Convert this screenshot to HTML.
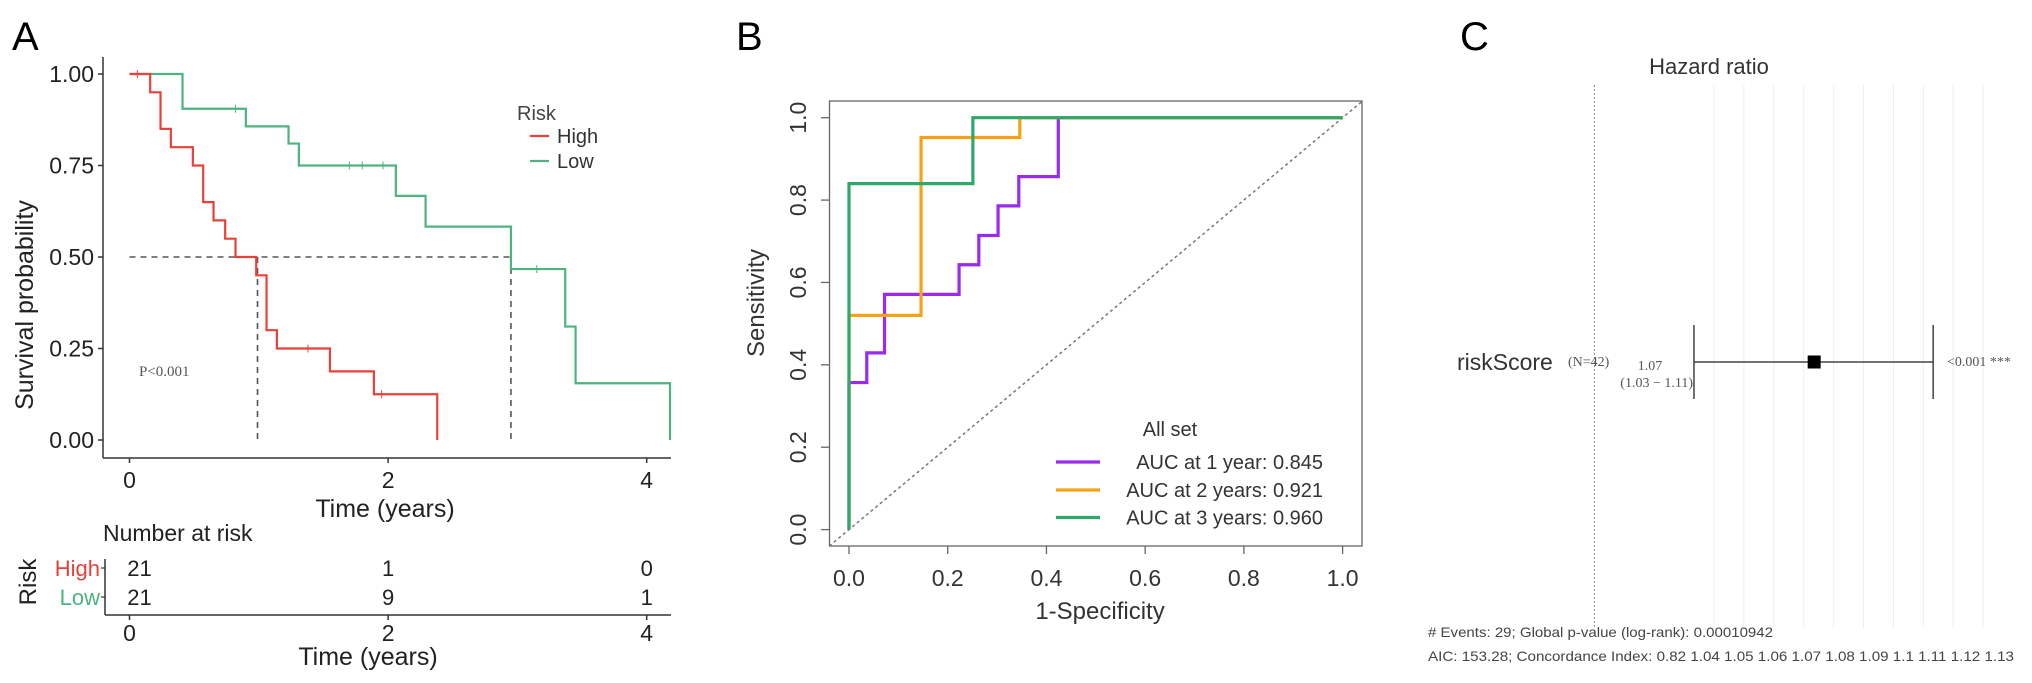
<!DOCTYPE html>
<html><head><meta charset="utf-8">
<style>
html,body{margin:0;padding:0;background:#fff;}
svg{display:block;font-family:"Liberation Sans",sans-serif;}
</style></head>
<body>
<svg id="fig" width="2032" height="683" viewBox="0 0 2032 683" xmlns="http://www.w3.org/2000/svg">
  <text x="12" y="50" font-size="40" fill="#000">A</text>
  <text x="736" y="50" font-size="40" fill="#000">B</text>
  <text x="1460" y="50" font-size="40" fill="#000">C</text>
  <g id="pa"></g>
  <g id="pb"></g>
  <g id="pc"></g>
</svg>
<script>
// ---------- Panel A data ----------
const kmTimeTicks = [0, 2, 4];
const kmProbTicks = [0, 0.25, 0.5, 0.75, 1.0];
const kmProbLabels = ["0.00", "0.25", "0.50", "0.75", "1.00"];
const highTimes = [0, 0.16, 0.24, 0.32, 0.49, 0.57, 0.65, 0.74, 0.82, 0.98, 1.06, 1.14, 1.55, 1.89, 2.38];
const highSurv  = [1, 0.95, 0.85, 0.80, 0.75, 0.65, 0.60, 0.55, 0.50, 0.45, 0.30, 0.25, 0.1875, 0.125, 0];
const highCensor = [0.06, 1.38, 1.95];
const lowTimes = [0, 0.41, 0.90, 1.23, 1.31, 2.06, 2.29, 2.95, 3.37, 3.45, 4.18];
const lowSurv  = [1, 0.905, 0.857, 0.81, 0.75, 0.667, 0.583, 0.467, 0.31, 0.155, 0];
const lowCensor = [0.82, 1.7, 1.8, 1.96, 3.15];
const medianHigh = 0.99;
const medianLow = 2.95;
const riskGroups = ["High", "Low"];
const riskHigh = [21, 1, 0];
const riskLow = [21, 9, 1];

// ---------- Panel B data ----------
const rocTicks = [0, 0.2, 0.4, 0.6, 0.8, 1.0];
const rocTickLabels = ["0.0", "0.2", "0.4", "0.6", "0.8", "1.0"];
const roc1Fpr = [0, 0, 0.036, 0.036, 0.072, 0.072, 0.223, 0.223, 0.263, 0.263, 0.302, 0.302, 0.344, 0.344, 0.424, 0.424, 1];
const roc1Tpr = [0, 0.357, 0.357, 0.429, 0.429, 0.571, 0.571, 0.643, 0.643, 0.714, 0.714, 0.786, 0.786, 0.857, 0.857, 1, 1];
const roc2Fpr = [0, 0, 0.146, 0.146, 0.346, 0.346, 1];
const roc2Tpr = [0, 0.52, 0.52, 0.952, 0.952, 1, 1];
const roc3Fpr = [0, 0, 0.251, 0.251, 1];
const roc3Tpr = [0, 0.84, 0.84, 1, 1];
const rocLabels = ["AUC at 1 year: 0.845", "AUC at 2 years: 0.921", "AUC at 3 years: 0.960"];

// ---------- Panel C data ----------
const hrGrid = [1.04, 1.05, 1.06, 1.07, 1.08, 1.09, 1.10, 1.11, 1.12, 1.13];
const hrRef = 1.0;
const hrPoint = [1.0735];
const hrLow = [1.0333];
const hrHigh = [1.1133];

const NS = "http://www.w3.org/2000/svg";
function mk(parent, tag, attrs, text) {
  const e = document.createElementNS(NS, tag);
  for (const k in attrs) e.setAttribute(k, attrs[k]);
  if (text !== undefined) e.textContent = text;
  parent.appendChild(e);
  return e;
}
function stepPath(xs, ys, sx, sy) {
  let d = "M" + sx(xs[0]) + "," + sy(ys[0]);
  for (let i = 1; i < xs.length; i++) {
    d += " H" + sx(xs[i]) + " V" + sy(ys[i]);
  }
  return d;
}
function linePath(xs, ys, sx, sy) {
  return xs.map((x, i) => (i ? "L" : "M") + sx(x) + "," + sy(ys[i])).join(" ");
}

// ================= Panel A =================
(function () {
  const g = document.getElementById("pa");
  const tx = t => 129.5 + t * 129.3;
  const ty = p => 440 - p * 366;
  const red = "#e8413a", green = "#4db380";
  let e;
  e = mk(g, "line", {x1: 103, y1: 57, x2: 103, y2: 458, stroke: "#333", "stroke-width": 1.5});
   
  e = mk(g, "line", {x1: 103, y1: 458, x2: 671, y2: 458, stroke: "#333", "stroke-width": 1.5});
   
  kmProbTicks.forEach((p, i) => {
    mk(g, "line", {x1: 98, y1: ty(p), x2: 103, y2: ty(p), stroke: "#333", "stroke-width": 1.5});
    e = mk(g, "text", {x: 94, y: ty(p) + 8, "font-size": 23, "text-anchor": "end", fill: "#222"}, kmProbLabels[i]);
     
  });
  kmTimeTicks.forEach(t => {
    mk(g, "line", {x1: tx(t), y1: 458, x2: tx(t), y2: 463, stroke: "#333", "stroke-width": 1.5});
    e = mk(g, "text", {x: tx(t), y: 488, "font-size": 23, "text-anchor": "middle", fill: "#222"}, String(t));
     
  });
  e = mk(g, "text", {x: 385, y: 517, "font-size": 25, "text-anchor": "middle", fill: "#222"}, "Time (years)");
   
  e = mk(g, "text", {x: 0, y: 0, "font-size": 25, "text-anchor": "middle", fill: "#222", transform: "translate(33,305) rotate(-90)"}, "Survival probability");
   
  e = mk(g, "path", {d: "M" + tx(0) + "," + ty(0.5) + " H" + tx(medianLow) + " M" + tx(medianHigh) + "," + ty(0.5) + " V" + ty(0) + " M" + tx(medianLow) + "," + ty(0.5) + " V" + ty(0), stroke: "#555", "stroke-width": 1.6, "stroke-dasharray": "6,5", fill: "none"});
   
  e = mk(g, "path", {d: stepPath(lowTimes, lowSurv, tx, ty), stroke: green, "stroke-width": 2.2, fill: "none"});
   
  e = mk(g, "path", {d: stepPath(highTimes, highSurv, tx, ty), stroke: red, "stroke-width": 2.2, fill: "none"});
   
  function survAt(ts, ss, t) { let s = ss[0]; for (let i = 0; i < ts.length; i++) if (ts[i] <= t) s = ss[i]; return s; }
  highCensor.forEach(t => {
    e = mk(g, "line", {x1: tx(t), y1: ty(survAt(highTimes, highSurv, t)) - 4, x2: tx(t), y2: ty(survAt(highTimes, highSurv, t)) + 4, stroke: red, "stroke-width": 1});
     
  });
  lowCensor.forEach(t => {
    e = mk(g, "line", {x1: tx(t), y1: ty(survAt(lowTimes, lowSurv, t)) - 4, x2: tx(t), y2: ty(survAt(lowTimes, lowSurv, t)) + 4, stroke: green, "stroke-width": 1});
     
  });
  e = mk(g, "text", {x: 139, y: 376, "font-size": 15, fill: "#555", "font-family": "Liberation Serif, serif"}, "P<0.001");
   
  e = mk(g, "text", {x: 517, y: 120, "font-size": 20, fill: "#444"}, "Risk");
   
  [[red, "High", 136], [green, "Low", 161]].forEach(r => {
    mk(g, "line", {x1: 530, y1: r[2], x2: 549, y2: r[2], stroke: r[0], "stroke-width": 2.2});
    e = mk(g, "text", {x: 557, y: r[2] + 7, "font-size": 20, fill: "#333"}, r[1]);
     
  });
  e = mk(g, "text", {x: 103, y: 541, "font-size": 23, fill: "#222"}, "Number at risk");
   
  mk(g, "line", {x1: 105, y1: 559, x2: 105, y2: 615, stroke: "#333", "stroke-width": 1.5});
  mk(g, "line", {x1: 105, y1: 615, x2: 671, y2: 615, stroke: "#333", "stroke-width": 1.5});
  const rowY = [568, 597];
  [riskHigh, riskLow].forEach((row, ri) => {
    mk(g, "line", {x1: 101, y1: rowY[ri], x2: 105, y2: rowY[ri], stroke: "#333", "stroke-width": 1.2});
    e = mk(g, "text", {x: 100, y: rowY[ri] + 8, "font-size": 22, "text-anchor": "end", fill: ri ? green : red}, riskGroups[ri]);
     
    row.forEach((v, i) => {
      e = mk(g, "text", {x: tx(kmTimeTicks[i]) + (i === 0 ? 10 : 0), y: rowY[ri] + 8, "font-size": 22, "text-anchor": "middle", fill: "#222"}, String(v));
       
    });
  });
  kmTimeTicks.forEach(t => {
    mk(g, "line", {x1: tx(t), y1: 615, x2: tx(t), y2: 620, stroke: "#333", "stroke-width": 1.5});
    e = mk(g, "text", {x: tx(t), y: 641, "font-size": 23, "text-anchor": "middle", fill: "#222"}, String(t));
     
  });
  e = mk(g, "text", {x: 368, y: 665, "font-size": 25, "text-anchor": "middle", fill: "#222"}, "Time (years)");
   
  e = mk(g, "text", {x: 0, y: 0, "font-size": 24, "text-anchor": "middle", fill: "#222", transform: "translate(36,582) rotate(-90)"}, "Risk");
   
})();

// ================= Panel B =================
(function () {
  const g = document.getElementById("pb");
  const sx = v => 849 + v * 493.6;
  const sy = v => 529.6 - v * 411.9;
  let e;
  e = mk(g, "rect", {x: 829.5, y: 101, width: 532.5, height: 445, fill: "none", stroke: "#666", "stroke-width": 1.3});
   
  e = mk(g, "line", {x1: sx(-0.04), y1: sy(-0.04), x2: sx(1.04), y2: sy(1.04), stroke: "#777", "stroke-width": 1.5, "stroke-dasharray": "3,3"});
   
  rocTicks.forEach((v, i) => {
    mk(g, "line", {x1: sx(v), y1: 546, x2: sx(v), y2: 554, stroke: "#666", "stroke-width": 1.3});
    e = mk(g, "text", {x: sx(v), y: 586, "font-size": 23, "text-anchor": "middle", fill: "#333"}, rocTickLabels[i]);
     
    mk(g, "line", {x1: 821, y1: sy(v), x2: 829.5, y2: sy(v), stroke: "#666", "stroke-width": 1.3});
    e = mk(g, "text", {x: 0, y: 0, "font-size": 23, "text-anchor": "middle", fill: "#333", transform: "translate(806," + sy(v) + ") rotate(-90)"}, rocTickLabels[i]);
     
  });
  e = mk(g, "text", {x: 1100, y: 619, "font-size": 24, "text-anchor": "middle", fill: "#333"}, "1-Specificity");
   
  e = mk(g, "text", {x: 0, y: 0, "font-size": 24, "text-anchor": "middle", fill: "#333", transform: "translate(764,303) rotate(-90)"}, "Sensitivity");
   
  const cols = ["#9a2bea", "#f5a312", "#2fa86a"];
  const series = [[roc1Fpr, roc1Tpr], [roc2Fpr, roc2Tpr], [roc3Fpr, roc3Tpr]];
  series.forEach((s, i) => {
    e = mk(g, "path", {d: linePath(s[0], s[1], sx, sy), stroke: cols[i], "stroke-width": 3.2, fill: "none", "stroke-linejoin": "miter"});
     
  });
  e = mk(g, "text", {x: 1170, y: 436, "font-size": 20, "text-anchor": "middle", fill: "#333"}, "All set");
   
  const ly = [462, 490, 517.5];
  rocLabels.forEach((lab, i) => {
    mk(g, "line", {x1: 1056, y1: ly[i], x2: 1100, y2: ly[i], stroke: cols[i], "stroke-width": 3.2});
    e = mk(g, "text", {x: 1323, y: ly[i] + 7, "font-size": 20, "text-anchor": "end", fill: "#333"}, lab);
     
  });
})();

// ================= Panel C =================
(function () {
  const g = document.getElementById("pc");
  const sx = v => 1714 + (v - 1.04) * 2990;
  let e;
  e = mk(g, "text", {x: 1709, y: 74, "font-size": 22, "text-anchor": "middle", fill: "#333"}, "Hazard ratio");
   
  hrGrid.forEach(v => {
    e = mk(g, "line", {x1: sx(v), y1: 85, x2: sx(v), y2: 628, stroke: "#eeeeee", "stroke-width": 1});
     
  });
  e = mk(g, "line", {x1: sx(hrRef), y1: 85, x2: sx(hrRef), y2: 628, stroke: "#888", "stroke-width": 1, "stroke-dasharray": "2,2"});
   
  const ry = 362;
  e = mk(g, "text", {x: 1457, y: ry + 8, "font-size": 23, fill: "#333"}, "riskScore");
   
  e = mk(g, "text", {x: 1568, y: ry + 4, "font-size": 14, fill: "#555", "font-family": "Liberation Serif, serif"}, "(N=42)");
   
  e = mk(g, "text", {x: 1650, y: ry + 8, "font-size": 14, "text-anchor": "middle", fill: "#555", "font-family": "Liberation Serif, serif"}, "1.07");
   
  e = mk(g, "text", {x: 1693, y: ry + 25, "font-size": 14, "text-anchor": "end", fill: "#555", "font-family": "Liberation Serif, serif"}, "(1.03 − 1.11)");
   
  e = mk(g, "path", {d: "M" + sx(hrLow[0]) + "," + ry + " H" + sx(hrHigh[0]) + " M" + sx(hrLow[0]) + ",325 V399 M" + sx(hrHigh[0]) + ",325 V399", stroke: "#444", "stroke-width": 1.5, fill: "none"});
   
  e = mk(g, "rect", {x: sx(hrPoint[0]) - 6.5, y: ry - 6.5, width: 13, height: 13, fill: "#000"});
   
  e = mk(g, "text", {x: 1947, y: ry + 4, "font-size": 14, fill: "#555", "font-family": "Liberation Serif, serif"}, "<0.001 ***");
   
  e = mk(g, "text", {x: 1428, y: 637, "font-size": 14, fill: "#444", textLength: 345, lengthAdjust: "spacingAndGlyphs"}, "# Events: 29; Global p-value (log-rank): 0.00010942");
   
  e = mk(g, "text", {x: 1428, y: 661, "font-size": 14, fill: "#444", textLength: 586, lengthAdjust: "spacingAndGlyphs"}, "AIC: 153.28; Concordance Index: 0.82 1.04 1.05 1.06 1.07 1.08 1.09 1.1 1.11 1.12 1.13");
   
})();
</script>
</body></html>
